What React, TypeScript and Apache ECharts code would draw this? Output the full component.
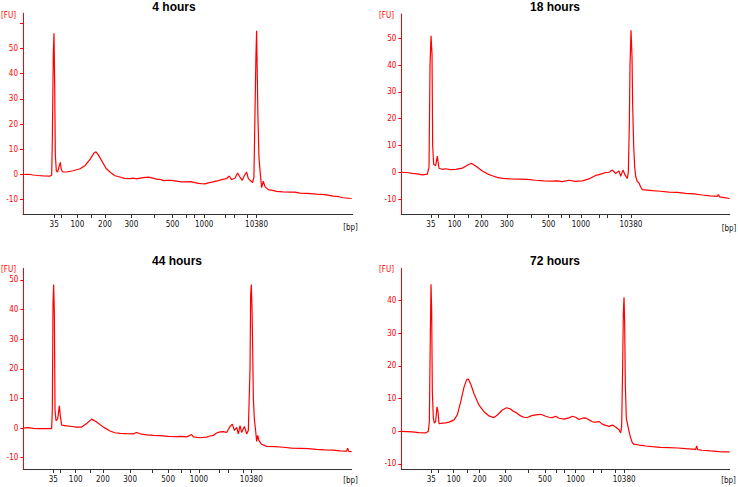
import React, { useEffect, useRef } from "react";
import * as echarts from "echarts";

// Ladder sizes (bp) of the High Sensitivity DNA ladder and the ones that get a label
const LADDER_BP = [35, 50, 100, 150, 200, 300, 400, 500, 600, 700, 1000, 2000, 3000, 7000, 10380];
const LABELED_BP = [35, 100, 200, 300, 500, 1000, 10380];

const PANEL_TITLES = ["4 hours", "18 hours", "44 hours", "72 hours"];

// Migration times (s) of the ladder peaks in each run
const ladderTime4h = [27.8, 29.6, 33.6, 37.1, 40.5, 47.1, 52.9, 57.4, 60.8, 62.9, 65.3, 70.5, 72.8, 76.1, 78.4];
const ladderTime18h = [27.4, 29.2, 33.3, 36.7, 40.1, 46.4, 52.5, 56.8, 59.9, 61.9, 64.9, 69.5, 71.6, 75.0, 77.4];
const ladderTime44h = [27.5, 29.2, 33.1, 36.7, 39.9, 46.7, 52.3, 56.2, 59.5, 61.7, 63.9, 69.0, 71.3, 74.9, 77.0];
const ladderTime72h = [27.5, 29.2, 33.1, 36.4, 39.6, 46.0, 51.7, 55.9, 58.8, 60.7, 63.6, 68.1, 70.0, 73.5, 75.7];

// 4 hours: time (s) and fluorescence (FU)
const time4h = [20.0, 22.6, 25.1, 26.75, 27.17, 27.33, 27.58, 27.75, 27.92, 28.08, 28.33, 28.67, 29.08, 29.33, 29.58, 29.92, 30.92, 32.58, 34.25, 35.5, 36.75, 37.75, 38.25, 38.83, 39.67, 40.75, 41.75, 43.0, 44.67, 46.75, 49.25, 51.33, 53.42, 55.92, 58.42, 60.92, 63.0, 64.67, 66.33, 68.0, 69.67, 70.92, 71.58, 72.17, 73.0, 73.67, 74.25, 74.83, 75.33, 75.92, 76.33, 76.92, 77.42, 77.75, 78.0, 78.25, 78.42, 78.58, 78.75, 79.0, 79.33, 79.67, 80.08, 80.5, 81.33, 83.42, 86.75, 89.25, 93.42, 97.58, 100.08, 102.17,
  21.3, 23.8, 44.0, 45.5, 47.6, 48.4, 50.1, 52.2, 54.5, 55.2, 57.0, 59.6, 62.0, 63.9, 65.5, 67.2, 68.9, 82.4, 85.0, 88.0, 91.0, 95.5, 99.0];
const fu4h = [0, -0.2, -0.5, -0.6, -0.3, 13, 48, 56, 36, 8, 1.5, 1.0, 3.5, 4.8, 2.0, 1.0, 1.0, 1.5, 2.3, 3.5, 6.0, 8.5, 9.0, 7.8, 5.5, 2.5, 1.0, -0.5, -1.2, -1.6, -1.4, -1.0, -1.8, -2.3, -2.6, -2.9, -3.2, -3.6, -3.3, -2.7, -2.0, -1.6, -0.6, -2.0, -1.5, 0.6, -1.0, -2.3, -0.5, 1.0, -1.5, -2.5, -3.2, -1.0, 23, 47, 57, 40, 23, 7, 0.5, -5.2, -2.6, -4.8, -6.0, -6.7, -7.0, -7.4, -7.8, -8.6, -9.2, -9.5,
  0.1, -0.4, -0.9, -1.5, -1.4, -1.7, -1.2, -1.3, -2.0, -2.4, -2.3, -2.9, -2.8, -3.5, -3.7, -3.0, -2.4, -6.3, -6.9, -7.0, -7.5, -8.0, -8.8];

// 18 hours
const time18h = [20.0, 22.76, 25.26, 26.51, 26.93, 27.18, 27.43, 27.68, 27.84, 28.09, 28.59, 29.0, 29.43, 31.09, 33.59, 35.26, 36.93, 37.59, 38.59, 40.26, 42.76, 45.26, 49.43, 53.59, 57.76, 60.26, 61.93, 65.26, 66.93, 68.59, 70.26, 71.93, 72.76, 73.59, 74.43, 74.84, 75.43, 75.93, 76.51, 76.76, 77.01, 77.18, 77.43, 77.68, 77.84, 78.09, 78.34, 78.59, 79.01, 79.43, 79.84, 80.26, 82.76, 86.93, 91.09, 95.26, 99.01, 99.26, 99.59, 102.09,
  21.4, 24.0, 30.2, 32.3, 41.5, 44.0, 47.3, 51.5, 55.6, 59.0, 63.5, 67.7, 69.4, 71.1, 73.2, 84.8, 89.0, 93.2, 97.2, 100.8];
const fu18h = [0, -0.4, -1.0, -0.7, 2, 40, 51, 44, 10, 3, 2.5, 6, 1.5, 1.3, 1.1, 1.5, 3.0, 3.3, 2.3, 0.5, -1.3, -2.3, -2.6, -3.0, -3.3, -3.5, -3.0, -3.2, -2.5, -1.2, -0.5, 0, 0.8, -0.5, 0.5, -1.5, 0.8, -1.0, -2.3, 0, 18, 40, 53, 43, 25, 10, 2, -1.5, -3.5, -4.0, -5.5, -6.5, -6.9, -7.4, -7.9, -8.5, -9.0, -8.3, -9.2, -9.8,
  -0.1, -0.6, 1.1, 1.0, -0.6, -1.9, -2.5, -2.7, -3.2, -3.2, -3.4, -1.9, -0.9, -0.1, 0.2, -7.1, -7.5, -8.1, -8.8, -9.5];

// 44 hours
const time44h = [20.0, 22.51, 25.01, 27.09, 27.26, 27.43, 27.59, 27.76, 27.93, 28.18, 28.59, 29.01, 29.26, 29.59, 30.84, 33.34, 34.59, 35.84, 37.09, 38.34, 40.01, 41.68, 44.18, 47.51, 48.34, 50.84, 54.18, 58.34, 60.84, 62.09, 62.51, 65.84, 67.51, 69.18, 70.84, 71.68, 72.26, 72.76, 73.34, 73.76, 74.18, 74.59, 75.26, 75.84, 76.26, 76.68, 76.84, 77.01, 77.18, 77.34, 77.51, 77.76, 78.09, 78.34, 78.59, 78.93, 79.59, 80.84, 85.01, 89.18, 93.34, 97.51, 100.84, 101.09, 101.34, 102.09,
  21.2, 23.8, 32.1, 42.9, 45.8, 49.6, 52.5, 56.3, 59.6, 64.2, 66.7, 68.3, 70.0, 82.9, 87.1, 91.3, 95.4, 99.2];
const fu44h = [0, -0.1, -0.2, -0.2, 6.5, 42, 48.5, 39, 6, 2.5, 3, 7.5, 4, 1, 0.7, 0.3, 0.3, 1.5, 3.0, 2.0, 0.3, -1.0, -1.8, -2.0, -1.5, -2.3, -2.6, -2.9, -3.0, -2.2, -3.0, -3.1, -2.5, -1.3, -1.5, 0.5, 1.3, -0.8, 0.2, -2.0, 0.8, -1.5, 0.5, -2.0, -0.8, 20, 45, 48.5, 40, 27, 10, 3, -1, -4.5, -2.5, -4.3, -5.5, -6.2, -6.5, -6.9, -7.2, -7.5, -7.8, -6.8, -7.9, -8.0,
  0.1, -0.2, 0.5, -1.6, -1.9, -2.1, -2.5, -2.8, -2.8, -3.3, -2.7, -1.7, -1.2, -6.3, -6.8, -7.0, -7.4, -7.7];

// 72 hours
const time72h = [20.0, 22.76, 26.09, 26.76, 27.01, 27.26, 27.43, 27.59, 27.76, 28.01, 28.26, 28.59, 28.93, 29.18, 29.43, 30.26, 31.93, 33.18, 34.01, 34.84, 35.68, 36.34, 36.76, 37.34, 38.18, 39.43, 40.68, 41.93, 43.18, 44.01, 45.26, 46.34, 47.34, 48.59, 49.84, 51.51, 53.59, 54.84, 56.09, 57.76, 58.6, 59.43, 60.7, 61.93, 62.8, 63.59, 64.4, 65.26, 66.1, 66.93, 67.8, 68.59, 69.4, 70.26, 71.1, 71.93, 72.8, 73.59, 74.43, 74.84, 75.09, 75.34, 75.51, 75.68, 75.84, 76.01, 76.26, 76.59, 76.93, 77.34, 77.76, 78.18, 78.59, 79.43, 81.09, 82.76, 86.93, 91.09, 93.59, 93.84, 94.09, 95.26, 99.43, 102.09,
  24.4, 31.1, 42.6, 47.9, 50.7, 52.6, 55.5, 56.9, 80.2, 84.8, 89.0, 97.3, 100.8];
const fu72h = [0, -0.2, -0.5, 0, 3, 30, 45, 37, 12, 4, 2.5, 3, 7.5, 6, 2.3, 2.5, 2.8, 3.5, 5, 9, 13.5, 15.8, 16, 14.5, 11.5, 8, 6, 4.7, 4.2, 5.0, 6.5, 7.2, 6.8, 5.8, 4.7, 4.2, 5.0, 5.2, 4.6, 4.2, 4.6, 4.0, 3.7, 4.1, 4.6, 4.3, 3.6, 4.0, 4.1, 3.5, 2.9, 2.8, 3.0, 2.2, 1.8, 1.5, 1.9, 1.3, 0.5, -0.5, 1.5, 20, 36, 41, 33, 14, 4, 2, 0, -2, -3.5, -4, -4, -4.2, -4.5, -4.7, -5.0, -5.3, -5.5, -4.5, -5.6, -5.8, -6.2, -6.3,
  -0.4, 2.6, 4.4, 6.2, 4.3, 4.8, 4.9, 4.3, -4.3, -4.9, -5.1, -6.0, -6.3];

// y-axis ticks per panel
const yTicks4h = [-10, 0, 10, 20, 30, 40, 50, 60];
const yLabels4h = [-10, 0, 10, 20, 30, 40, 50];
const yTicks18h = [-10, 0, 10, 20, 30, 40, 50];
const yTicks44h = [-10, 0, 10, 20, 30, 40, 50];
const yTicks72h = [-10, 0, 10, 20, 30, 40];

const RED = "#ff0000";
const SMALL_FONT = "'DejaVu Sans Condensed', 'DejaVu Sans', 'Liberation Sans', sans-serif";
const SMALL_SIZE = 8;

type Panel = {
  title: string;
  times: number[];
  fus: number[];
  ladder: number[];
  yTicks: number[];
  yLabels: number[];
  yMin: number;
  yMax: number;
  xMax: number;
  grid: { left: number; top: number; width: number; height: number };
  titlePos: [number, number];
  fuPos: [number, number];
  bpPos: [number, number];
};

const panels: Panel[] = [
  {
    title: PANEL_TITLES[0], times: time4h, fus: fu4h, ladder: ladderTime4h,
    yTicks: yTicks4h, yLabels: yLabels4h, yMin: -15.65, yMax: 63.9, xMax: 102.45,
    grid: { left: 23, top: 13.3, width: 329.7, height: 200.7 },
    titlePos: [174, 7], fuPos: [16, 15], bpPos: [350.5, 227],
  },
  {
    title: PANEL_TITLES[1], times: time18h, fus: fu18h, ladder: ladderTime18h,
    yTicks: yTicks18h, yLabels: yTicks18h, yMin: -15.6, yMax: 59.1, xMax: 102.1,
    grid: { left: 401.3, top: 14, width: 328.4, height: 200 },
    titlePos: [555, 7], fuPos: [394, 15], bpPos: [729, 228],
  },
  {
    title: PANEL_TITLES[2], times: time44h, fus: fu44h, ladder: ladderTime44h,
    yTicks: yTicks44h, yLabels: yTicks44h, yMin: -13.85, yMax: 53.95, xMax: 102.1,
    grid: { left: 23.3, top: 268.3, width: 328.4, height: 200.7 },
    titlePos: [177, 261], fuPos: [16, 269], bpPos: [350.5, 480],
  },
  {
    title: PANEL_TITLES[3], times: time72h, fus: fu72h, ladder: ladderTime72h,
    yTicks: yTicks72h, yLabels: yTicks72h, yMin: -11.53, yMax: 49.85, xMax: 102.1,
    grid: { left: 401.3, top: 268.3, width: 328.4, height: 200.7 },
    titlePos: [555, 261], fuPos: [394, 269], bpPos: [728.5, 480],
  },
];

function buildOption() {
  const grids: any[] = [];
  const xAxes: any[] = [];
  const yAxes: any[] = [];
  const series: any[] = [];
  const graphics: any[] = [];

  panels.forEach((p, i) => {
    grids.push({ ...p.grid, containLabel: false });
    const labeledTimes = p.ladder.filter((_, k) => LABELED_BP.includes(LADDER_BP[k]));
    xAxes.push({
      type: "value",
      gridIndex: i,
      min: 20,
      max: p.xMax,
      axisLine: { show: true, onZero: false, lineStyle: { color: "#333", width: 1 } },
      axisTick: { show: true, customValues: p.ladder, length: 4, lineStyle: { color: "#333", width: 1 } },
      axisLabel: {
        show: true,
        customValues: labeledTimes,
        margin: 6,
        color: "#111",
        fontSize: SMALL_SIZE,
        fontFamily: SMALL_FONT,
        formatter: (v: number) => {
          let best = 0;
          let bd = Infinity;
          p.ladder.forEach((t, k) => {
            const d = Math.abs(t - v);
            if (d < bd) { bd = d; best = k; }
          });
          return String(LADDER_BP[best]);
        },
      },
      splitLine: { show: false },
    });
    yAxes.push({
      type: "value",
      gridIndex: i,
      min: p.yMin,
      max: p.yMax,
      axisLine: { show: true, onZero: false, lineStyle: { color: RED, width: 1 } },
      axisTick: { show: true, customValues: p.yTicks, length: 3, lineStyle: { color: RED, width: 1 } },
      axisLabel: {
        show: true,
        customValues: p.yLabels,
        margin: 5,
        color: RED,
        fontSize: SMALL_SIZE,
        fontFamily: SMALL_FONT,
      },
      splitLine: { show: false },
    });
    const pairs = p.times
      .slice(0, Math.min(p.times.length, p.fus.length))
      .map((t, k) => [t, p.fus[k]])
      .sort((a, b) => a[0] - b[0]);
    series.push({
      type: "line",
      xAxisIndex: i,
      yAxisIndex: i,
      data: pairs,
      showSymbol: false,
      symbol: "none",
      lineStyle: { color: RED, width: 1.2 },
      itemStyle: { color: RED },
      silent: true,
    });
    graphics.push(
      {
        type: "text",
        x: p.titlePos[0],
        y: p.titlePos[1],
        style: {
          text: p.title,
          fill: "#000",
          font: "bold 12px 'Liberation Sans', Arial, sans-serif",
          align: "center",
          verticalAlign: "middle",
        },
      },
      {
        type: "text",
        x: p.fuPos[0],
        y: p.fuPos[1],
        style: {
          text: "[FU]",
          fill: RED,
          font: `${SMALL_SIZE}px ${SMALL_FONT}`,
          align: "right",
          verticalAlign: "middle",
        },
      },
      {
        type: "text",
        x: p.bpPos[0],
        y: p.bpPos[1],
        style: {
          text: "[bp]",
          fill: "#111",
          font: `${SMALL_SIZE}px ${SMALL_FONT}`,
          align: "center",
          verticalAlign: "middle",
        },
      }
    );
  });

  return {
    animation: false,
    backgroundColor: "#ffffff",
    grid: grids,
    xAxis: xAxes,
    yAxis: yAxes,
    series,
    graphic: graphics,
  };
}

export default function App() {
  const ref = useRef<HTMLDivElement>(null);
  useEffect(() => {
    if (!ref.current) return;
    const chart = echarts.init(ref.current, null, { renderer: "svg" });
    chart.setOption(buildOption());
    return () => chart.dispose();
  }, []);
  return (
    <div
      ref={ref}
      style={{ position: "absolute", left: 0, top: 0, width: 738, height: 487, background: "#fff" }}
    />
  );
}
